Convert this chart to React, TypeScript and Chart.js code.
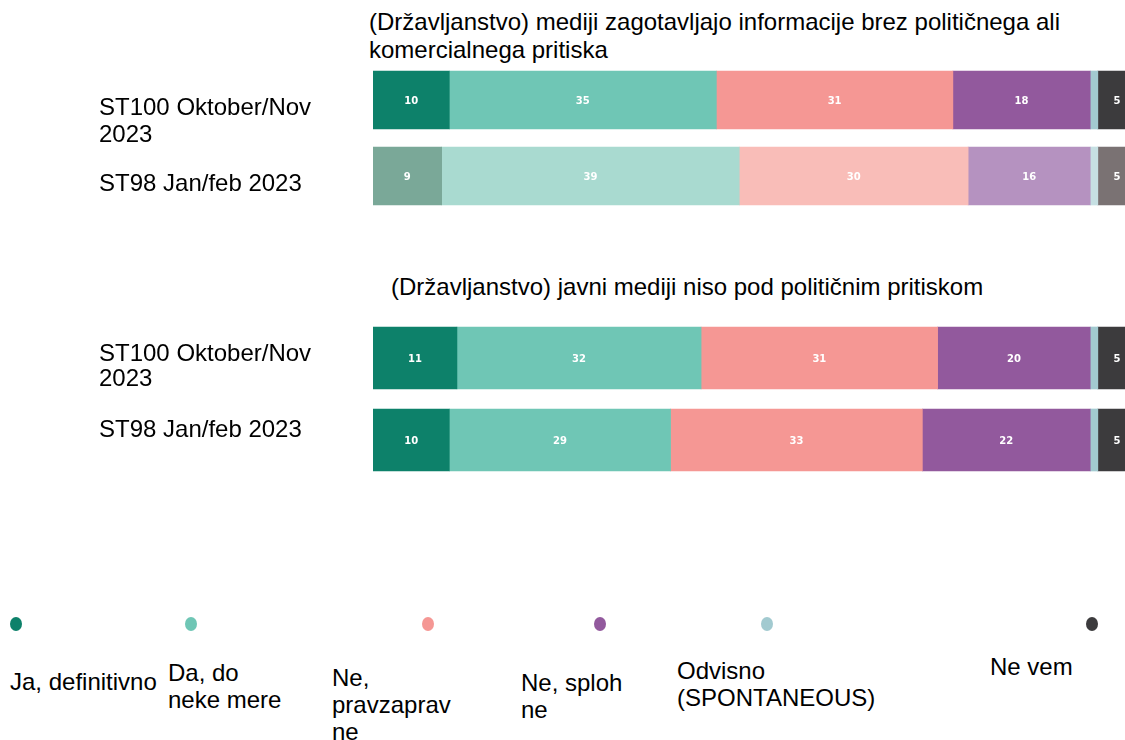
import React, { useEffect, useRef } from "react";
import { Chart, registerables } from "chart.js";

Chart.register(...registerables);

// ---------- data ----------
const waveLabels = [["ST100 Oktober/Nov", "2023"], ["ST98 Jan/feb 2023", ""]];
const responses = [
  "Ja, definitivno",
  "Da, do neke mere",
  "Ne, pravzaprav ne",
  "Ne, sploh ne",
  "Odvisno (SPONTANEOUS)",
  "Ne vem",
];
const legendLines = [
  ["Ja, definitivno"],
  ["Da, do", "neke mere"],
  ["Ne,", "pravzaprav", "ne"],
  ["Ne, sploh", "ne"],
  ["Odvisno", "(SPONTANEOUS)"],
  ["Ne vem"],
];
const q1Title = [
  "(Državljanstvo) mediji zagotavljajo informacije brez političnega ali",
  "komercialnega pritiska",
];
const q2Title = ["(Državljanstvo) javni mediji niso pod političnim pritiskom"];

const q1ST100 = [10, 35, 31, 18, 1, 5];
const q1ST98 = [9, 39, 30, 16, 1, 5];
const q2ST100 = [11, 32, 31, 20, 1, 5];
const q2ST98 = [10, 29, 33, 22, 1, 5];

const colors = ["#0d816a", "#6fc6b5", "#f59794", "#92599d", "#a2cad0", "#3c3b3d"];
const fadedColors = ["#7aa898", "#a9dad0", "#f9bdb8", "#b592c0", "#c6e0e3", "#7a7273"];

// ---------- layout ----------
const FONT = '"Liberation Sans", Arial, sans-serif';
const legendDotX = [16, 191, 428, 600, 767, 1092];
const legendTextPos = [
  { x: 10, y: 681 },
  { x: 168, y: 672 },
  { x: 332, y: 677 },
  { x: 521, y: 682 },
  { x: 677, y: 670 },
  { x: 990, y: 666 },
];

const valueLabels = {
  id: "valueLabels",
  afterDatasetsDraw(chart: any) {
    const ctx = chart.ctx;
    ctx.save();
    ctx.font = 'bold 10px "DejaVu Sans", Verdana, sans-serif';
    ctx.fillStyle = "#ffffff";
    ctx.textAlign = "center";
    ctx.textBaseline = "middle";
    chart.data.datasets.forEach((ds: any, di: number) => {
      const meta = chart.getDatasetMeta(di);
      meta.data.forEach((el: any, i: number) => {
        const v = ds.data[i];
        if (v < 2) return;
        const p = el.getCenterPoint();
        ctx.fillText(String(v), p.x, p.y + 1);
      });
    });
    ctx.restore();
  },
};

function BarBlock(props: {
  st100: number[];
  st98: number[];
  faded: boolean;
  top: number;
  height: number;
  thickness: number;
  lineHeights: number[];
  labelOffset: number;
}) {
  const ref = useRef<HTMLCanvasElement | null>(null);
  useEffect(() => {
    if (!ref.current) return;
    const datasets = responses.map((r, i) => ({
      label: r,
      data: [props.st100[i], props.st98[i]],
      backgroundColor: [colors[i], props.faded ? fadedColors[i] : colors[i]],
      borderWidth: 0,
      barThickness: props.thickness,
    }));
    const chart = new Chart(ref.current, {
      type: "bar",
      data: { labels: waveLabels as any, datasets },
      options: {
        indexAxis: "y",
        responsive: true,
        maintainAspectRatio: false,
        animation: false,
        layout: { padding: { left: 99, right: 4, top: 0, bottom: 0 } },
        plugins: { legend: { display: false }, tooltip: { enabled: false } },
        scales: {
          x: { stacked: true, min: 0, max: 100, display: false },
          y: {
            stacked: true,
            grid: { display: false, drawTicks: false },
            border: { display: false },
            ticks: {
              crossAlign: "far",
              color: "#000",
              padding: 0,
              labelOffset: props.labelOffset,
              font: (c: any) => ({
                family: FONT,
                size: 24,
                lineHeight: (props.lineHeights[c.index] ?? props.lineHeights[0]) / 24,
              }),
            },
            afterFit: (s: any) => {
              s.width = 274;
              s.paddingTop = 0;
              s.paddingBottom = 0;
            },
          },
        },
      } as any,
      plugins: [valueLabels],
    });
    return () => chart.destroy();
  }, []);
  return (
    <div style={{ position: "absolute", left: 0, top: props.top, width: 1140, height: props.height }}>
      <canvas ref={ref} />
    </div>
  );
}

export default function App() {
  return (
    <div
      style={{
        position: "fixed",
        left: 0,
        top: 0,
        width: 1125,
        height: 740,
        overflow: "hidden",
        background: "#fff",
        fontFamily: FONT,
        color: "#000",
      }}
    >
      <div style={{ position: "absolute", left: 369, top: 8, fontSize: 24, lineHeight: "28px", whiteSpace: "nowrap" }}>
        {q1Title.map((t, i) => (
          <div key={i}>{t}</div>
        ))}
      </div>
      <div style={{ position: "absolute", left: 391, top: 273, fontSize: 24, lineHeight: "28px", whiteSpace: "nowrap" }}>
        {q2Title.map((t, i) => (
          <div key={i}>{t}</div>
        ))}
      </div>
      <BarBlock st100={q1ST100} st98={q1ST98} faded={true} top={62} height={152} thickness={58} lineHeights={[27, 27]} labelOffset={22} />
      <BarBlock st100={q2ST100} st98={q2ST98} faded={false} top={317} height={164} thickness={62} lineHeights={[25, 36]} labelOffset={8.5} />
      {responses.map((r, i) => (
        <div
          key={"dot" + i}
          title={r}
          style={{
            position: "absolute",
            left: legendDotX[i] - 6,
            top: 624 - 7,
            width: 12,
            height: 14,
            borderRadius: "50%",
            background: colors[i],
          }}
        />
      ))}
      {legendLines.map((lines, i) => (
        <div
          key={"lg" + i}
          style={{
            position: "absolute",
            left: legendTextPos[i].x,
            top: legendTextPos[i].y - 13.5,
            fontSize: 24,
            lineHeight: "27px",
            whiteSpace: "nowrap",
          }}
        >
          {lines.map((t, j) => (
            <div key={j}>{t}</div>
          ))}
        </div>
      ))}
    </div>
  );
}
